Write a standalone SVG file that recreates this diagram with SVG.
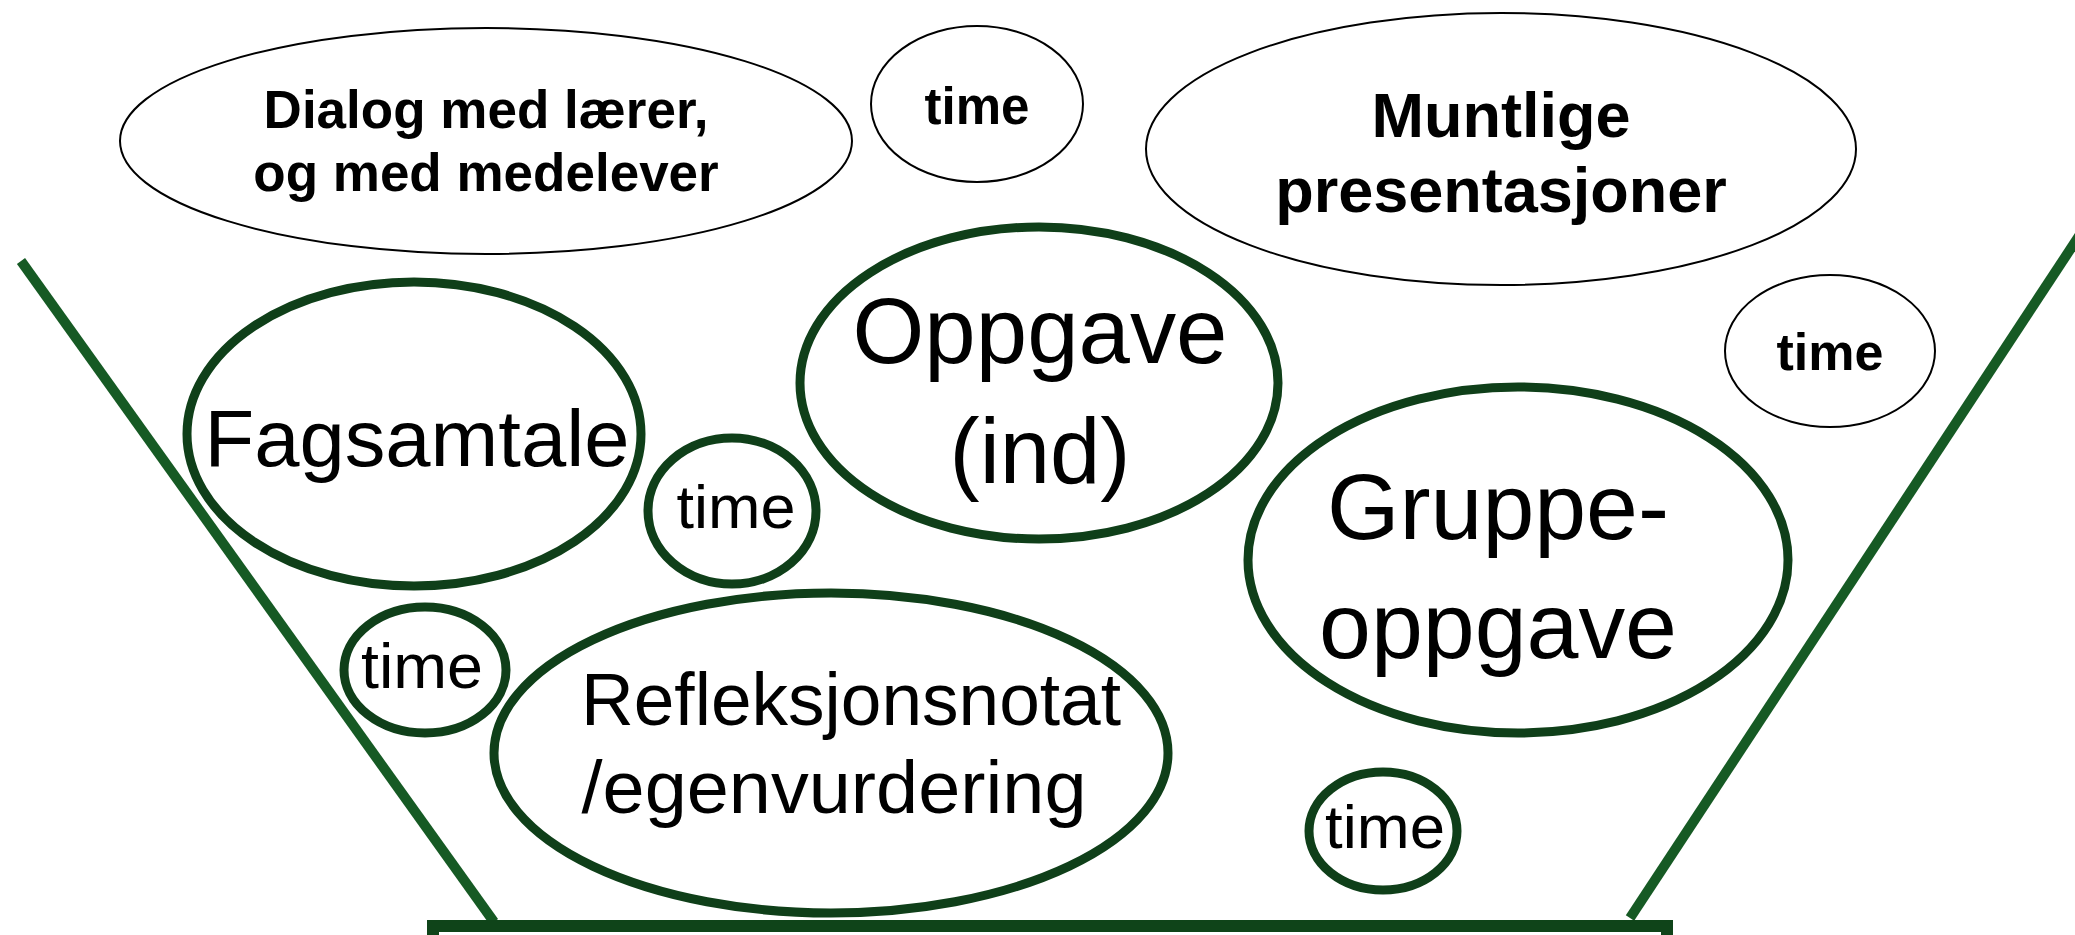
<svg xmlns="http://www.w3.org/2000/svg" width="2075" height="935" viewBox="0 0 2075 935">
<style>
.bg{fill:#ffffff}
.wall{stroke:#165a24;stroke-width:10;fill:none;stroke-linecap:butt}
.bar{stroke:#0f4419;stroke-width:12;fill:none}
.g{fill:#ffffff;stroke:#0f3f19;stroke-width:9}
.k{fill:#ffffff;stroke:#000000;stroke-width:2}
.gt{font-family:"Liberation Sans",Arial,sans-serif;font-weight:normal;fill:#000000;text-anchor:middle}
.kt{font-family:"Liberation Sans",Arial,sans-serif;font-weight:bold;fill:#000000;text-anchor:middle}
</style>
<rect class="bg" x="0" y="0" width="2075" height="935"/>
<g id="connectors">
  <line class="wall" x1="21" y1="261" x2="494" y2="922"/>
  <line class="wall" x1="2083" y1="230" x2="1630" y2="918"/>
  <rect class="bar" x="433" y="926" width="1234" height="100"/>
</g>
<g id="dialog">
  <ellipse class="k" cx="486" cy="141" rx="366" ry="113"/>
  <text class="kt" x="486" y="128" font-size="53">Dialog med lærer,</text>
  <text class="kt" x="486" y="191" font-size="53">og med medelever</text>
</g>
<g id="time-top">
  <ellipse class="k" cx="977" cy="104" rx="106" ry="78"/>
  <text class="kt" x="977" y="124" font-size="51">time</text>
</g>
<g id="muntlige">
  <ellipse class="k" cx="1501" cy="149" rx="355" ry="136"/>
  <text class="kt" x="1501" y="137" font-size="63">Muntlige</text>
  <text class="kt" x="1501" y="212" font-size="63">presentasjoner</text>
</g>
<g id="time-right">
  <ellipse class="k" cx="1830" cy="351" rx="105" ry="76"/>
  <text class="kt" x="1830" y="370" font-size="52">time</text>
</g>
<g id="fagsamtale">
  <ellipse class="g" cx="414" cy="434" rx="227" ry="152"/>
  <text class="gt" x="417" y="466" font-size="80" textLength="425" lengthAdjust="spacingAndGlyphs">Fagsamtale</text>
</g>
<g id="time-a">
  <ellipse class="g" cx="732" cy="511" rx="84" ry="73"/>
  <text class="gt" x="736" y="528" font-size="62" textLength="119" lengthAdjust="spacingAndGlyphs">time</text>
</g>
<g id="oppgave-ind">
  <ellipse class="g" cx="1039" cy="383" rx="239" ry="156"/>
  <text class="gt" x="1040" y="363" font-size="92" textLength="375" lengthAdjust="spacingAndGlyphs">Oppgave</text>
  <text class="gt" x="1040" y="483" font-size="92" textLength="181" lengthAdjust="spacingAndGlyphs">(ind)</text>
</g>
<g id="gruppeoppgave">
  <ellipse class="g" cx="1518" cy="560" rx="270" ry="173"/>
  <text class="gt" x="1498" y="539" font-size="92" textLength="342" lengthAdjust="spacingAndGlyphs">Gruppe-</text>
  <text class="gt" x="1498" y="658" font-size="92" textLength="358" lengthAdjust="spacingAndGlyphs">oppgave</text>
</g>
<g id="time-b">
  <ellipse class="g" cx="425" cy="670" rx="81" ry="63"/>
  <text class="gt" x="422" y="688" font-size="63" textLength="122" lengthAdjust="spacingAndGlyphs">time</text>
</g>
<g id="refleksjonsnotat">
  <ellipse class="g" cx="831" cy="753" rx="337" ry="160"/>
  <text class="gt" x="851" y="725" font-size="74" textLength="540" lengthAdjust="spacingAndGlyphs">Refleksjonsnotat</text>
  <text class="gt" x="834" y="813" font-size="74" textLength="505" lengthAdjust="spacingAndGlyphs">/egenvurdering</text>
</g>
<g id="time-c">
  <ellipse class="g" cx="1383" cy="831" rx="74" ry="59"/>
  <text class="gt" x="1385" y="848" font-size="62" textLength="120" lengthAdjust="spacingAndGlyphs">time</text>
</g>
</svg>
